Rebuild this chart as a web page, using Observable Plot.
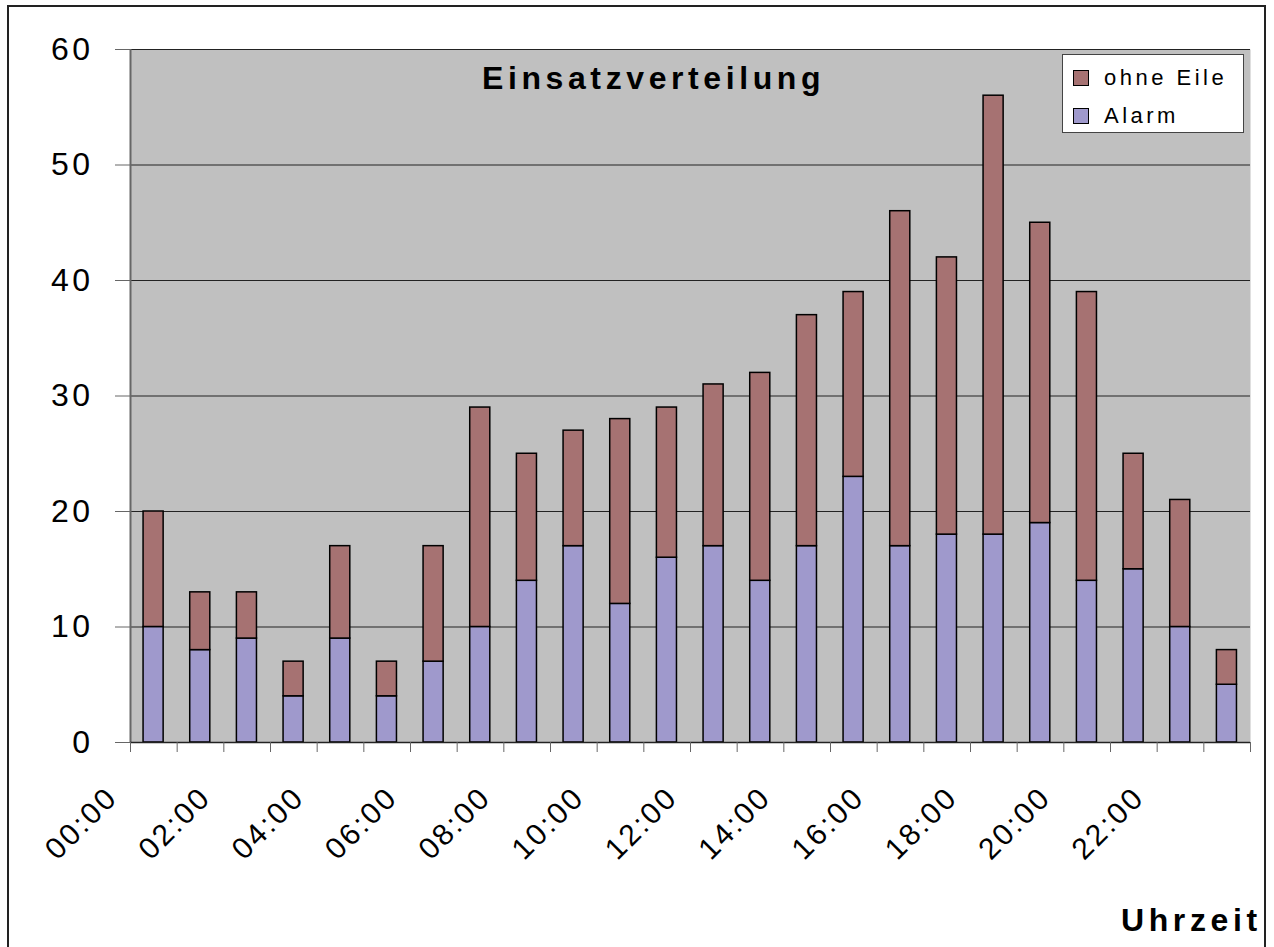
<!DOCTYPE html>
<html>
<head>
<meta charset="utf-8">
<script src="https://cdn.jsdelivr.net/npm/d3@7"></script>
<script src="https://cdn.jsdelivr.net/npm/@observablehq/plot@0.6"></script>
<style>
  html, body { margin: 0; padding: 0; background: #fff; overflow: hidden; width: 1274px; height: 947px; }
  #wrap { position: relative; width: 1274px; height: 947px; font-family: "Liberation Sans", Arial, sans-serif; }
  #border { position: absolute; left: 7px; top: 5px; width: 1259px; height: 960px; border: 2px solid #222; box-sizing: border-box; }
  #chart { position: absolute; left: 0; top: 0; }
  #chart g[aria-label="y-axis tick label"] text { letter-spacing: 3.5px; }
  #chart g[aria-label="x-axis tick label"] text { letter-spacing: 2.5px; }
  #title { position: absolute; left: 482px; top: 62px; font-size: 32px; font-weight: bold; letter-spacing: 4.6px; color: #000; white-space: nowrap; line-height: 1; }
  #xlabel { position: absolute; left: 1121px; top: 904px; font-size: 32px; font-weight: bold; letter-spacing: 4.6px; color: #000; white-space: nowrap; line-height: 1; }
  #legend { position: absolute; left: 1062px; top: 54px; width: 182px; height: 79px; background: #fff; border: 1px solid #444; box-sizing: border-box; }
  .item { position: absolute; left: 10px; display: flex; align-items: center; font-size: 22px; letter-spacing: 3.5px; color: #000; white-space: nowrap; }
  .sw { width: 16px; height: 16px; border: 1px solid #000; box-sizing: border-box; margin-right: 15px; }
</style>
</head>
<body>
<div id="wrap">
  <div id="chart"></div>
  <div id="border"></div>
  <div id="title">Einsatzverteilung</div>
  <div id="legend"></div>
  <div id="xlabel">Uhrzeit</div>
</div>
<script>
const hours = ["00:00","01:00","02:00","03:00","04:00","05:00","06:00","07:00","08:00","09:00","10:00","11:00",
               "12:00","13:00","14:00","15:00","16:00","17:00","18:00","19:00","20:00","21:00","22:00","23:00"];
const alarm    = [10, 8, 9, 4, 9, 4, 7, 10, 14, 17, 12, 16, 17, 14, 17, 23, 17, 18, 18, 19, 14, 15, 10, 5];
const ohneEile = [10, 5, 4, 3, 8, 3, 10, 19, 11, 10, 16, 13, 14, 18, 20, 16, 29, 24, 38, 26, 25, 10, 11, 3];
const seriesNames = ["Alarm", "ohne Eile"];
const seriesColors = ["#9f99cc", "#a67272"];
const yTicks = [0, 10, 20, 30, 40, 50, 60];

const data = [
  ...alarm.map((v, i) => ({i, series: "Alarm", value: v})),
  ...ohneEile.map((v, i) => ({i, series: "ohne Eile", value: v}))
];

const chart = Plot.plot({
  width: 1274,
  height: 947,
  marginLeft: 130,
  marginRight: 24,
  marginTop: 49,
  marginBottom: 205,
  style: {fontFamily: "Liberation Sans, Arial, sans-serif", background: "transparent", overflow: "visible"},
  x: {domain: [0, hours.length], axis: null},
  y: {domain: [0, 60], axis: null},
  color: {domain: seriesNames, range: seriesColors},
  marks: [
    Plot.frame({fill: "#c0c0c0", stroke: null}),
    Plot.ruleY(yTicks.slice(1), {stroke: "#222", strokeWidth: 1}),
    Plot.rectY(data, {
      x1: d => d.i + 0.28,
      x2: d => d.i + 0.71,
      y: "value",
      fill: "series",
      stroke: "#000",
      strokeWidth: 1.5
    }),
    Plot.ruleX([0], {stroke: "#666", strokeWidth: 2}),
    Plot.axisY({
      ticks: yTicks, tickSize: 15, tickPadding: 22, stroke: "#666",
      fontSize: 32, fill: "#000", label: null
    }),
    Plot.ruleY([0], {stroke: "#222", strokeWidth: 1.5}),
    Plot.axisX({ticks: d3.range(0, hours.length + 1), tickSize: 10, stroke: "#666", tickFormat: () => "", label: null}),
    Plot.axisX({
      ticks: d3.range(0, hours.length, 2),
      tickFormat: i => hours[i],
      tickSize: 0,
      tickRotate: -45,
      tickPadding: 50,
      dx: -18,
      fontSize: 30,
      fill: "#000",
      label: null
    })
  ]
});
document.getElementById("chart").appendChild(chart);

const legend = document.getElementById("legend");
const legendOrder = ["ohne Eile", "Alarm"];
legendOrder.forEach((name, k) => {
  const it = document.createElement("div");
  it.className = "item";
  it.style.top = (10 + k * 38) + "px";
  const sw = document.createElement("div");
  sw.className = "sw";
  sw.style.background = seriesColors[seriesNames.indexOf(name)];
  const t = document.createElement("span");
  t.textContent = name;
  it.appendChild(sw);
  it.appendChild(t);
  legend.appendChild(it);
});
</script>
</body>
</html>
